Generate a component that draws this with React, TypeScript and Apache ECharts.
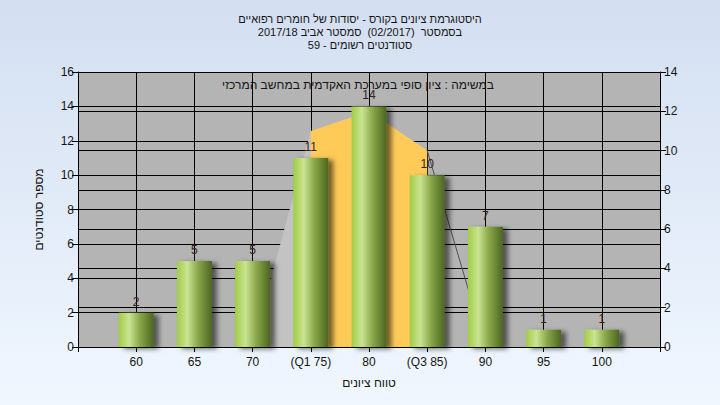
import React, { useEffect, useRef } from "react";
import * as echarts from "echarts";

const titleLines = [
  "היסטוגרמת ציונים בקורס - יסודות של חומרים רפואיים",
  "בסמסטר  (02/2017)  סמסטר אביב 2017/18",
  "סטודנטים רשומים - 59",
];
const noteText = "במשימה : ציון סופי במערכת האקדמית במחשב המרכזי";
const xAxisName = "טווח ציונים";
const yAxisName = "מספר סטודנטים";

const categories = ["", "60", "65", "70", "(Q1 75)", "80", "(Q3 85)", "90", "95", "100", ""];
const counts = [null, 2, 5, 5, 11, 14, 10, 7, 1, 1, null];
// curve on right axis, split into pieces
const greyArea = [null, null, null, 0, 11, null, null, null, null, null, null];
const iqrArea = [null, null, null, null, 11, 12, 10, null, null, null, null];
const tailLine = [null, null, null, null, null, null, 10, 0, null, null, null];

const FONT = "'Liberation Sans', Arial, sans-serif";
const TXT = "#151515";

export default function App() {
  const ref = useRef<HTMLDivElement>(null);
  useEffect(() => {
    if (!ref.current) return;
    const chart = echarts.init(ref.current, null, { renderer: "svg" });
    const barGrad = new echarts.graphic.LinearGradient(0, 0, 1, 0, [
      { offset: 0, color: "#a2cc46" },
      { offset: 0.3, color: "#c9e492" },
      { offset: 0.6, color: "#8aa84a" },
      { offset: 1, color: "#4c6620" },
    ]);
    chart.setOption({
      animation: false,
      backgroundColor: new echarts.graphic.LinearGradient(0, 0, 0, 1, [
        { offset: 0, color: "#d3dff1" },
        { offset: 1, color: "#f0f7ff" },
      ]),
      textStyle: { fontFamily: FONT },
      title: {
        text: titleLines.join("\n"),
        left: "center",
        top: 7,
        textStyle: { fontSize: 11, fontWeight: "normal", color: TXT, lineHeight: 13, fontFamily: FONT },
      },
      graphic: [
        {
          type: "text",
          x: 358,
          y: 85,
          z: 100,
          style: {
            text: noteText,
            align: "center",
            verticalAlign: "middle",
            textAlign: "center",
            textVerticalAlign: "middle",
            fontSize: 12,
            fontFamily: FONT,
            fill: TXT,
          },
        },
      ],
      grid: {
        left: 78,
        right: 60,
        top: 72,
        bottom: 58,
        show: true,
        backgroundColor: "#b4b4b4",
        borderWidth: 0,
      },
      xAxis: {
        type: "category",
        data: categories,
        boundaryGap: false,
        name: xAxisName,
        nameLocation: "middle",
        nameGap: 30,
        nameTextStyle: { fontSize: 12, color: TXT, fontFamily: FONT },
        axisLine: { show: true, lineStyle: { color: "#000", width: 1 } },
        axisTick: { show: true, length: 5, lineStyle: { color: "#000" } },
        axisLabel: { color: TXT, fontSize: 12, margin: 9, interval: 0, fontFamily: FONT },
        splitLine: { show: true, interval: 0, lineStyle: { color: "#000", width: 1 } },
      },
      yAxis: [
        {
          type: "value",
          min: 0,
          max: 16,
          interval: 2,
          name: yAxisName,
          nameLocation: "middle",
          nameGap: 33,
          nameRotate: 90,
          nameTextStyle: { fontSize: 12, color: TXT, fontFamily: FONT },
          axisLine: { show: true, lineStyle: { color: "#000" } },
          axisTick: { show: true, length: 6, lineStyle: { color: "#000" } },
          axisLabel: { color: TXT, fontSize: 12, margin: 4, fontFamily: FONT },
          splitLine: { show: true, lineStyle: { color: "#000", width: 1 } },
        },
        {
          type: "value",
          min: 0,
          max: 14,
          interval: 2,
          position: "right",
          axisLine: { show: true, lineStyle: { color: "#000" } },
          axisTick: { show: true, length: 6, lineStyle: { color: "#000" } },
          axisLabel: { color: TXT, fontSize: 12, margin: 4, fontFamily: FONT },
          splitLine: { show: true, lineStyle: { color: "#000", width: 1 } },
        },
      ],
      series: [
        {
          type: "line",
          yAxisIndex: 1,
          data: greyArea,
          symbol: "none",
          lineStyle: { width: 0 },
          areaStyle: { color: "#c3c3c3", opacity: 1 },
          z: 1,
        },
        {
          type: "line",
          yAxisIndex: 1,
          data: iqrArea,
          symbol: "none",
          lineStyle: { width: 0 },
          areaStyle: { color: "#fecb58", opacity: 1 },
          z: 1,
        },
        {
          type: "line",
          yAxisIndex: 1,
          data: tailLine,
          symbol: "none",
          lineStyle: { width: 1, color: "#505050" },
          z: 1,
        },
        {
          type: "bar",
          yAxisIndex: 0,
          data: counts,
          barWidth: 35,
          z: 3,
          itemStyle: {
            color: barGrad,
            shadowColor: "rgba(0,0,0,0.55)",
            shadowBlur: 5,
            shadowOffsetX: 5,
            shadowOffsetY: 2,
          },
          label: {
            show: true,
            position: "top",
            distance: 5,
            fontSize: 12,
            color: "#3a1c1c",
            fontFamily: FONT,
          },
        },
      ],
    });
    return () => chart.dispose();
  }, []);
  return (
    <div
      ref={ref}
      style={{ position: "fixed", left: 0, top: 0, width: 720, height: 405 }}
    />
  );
}
